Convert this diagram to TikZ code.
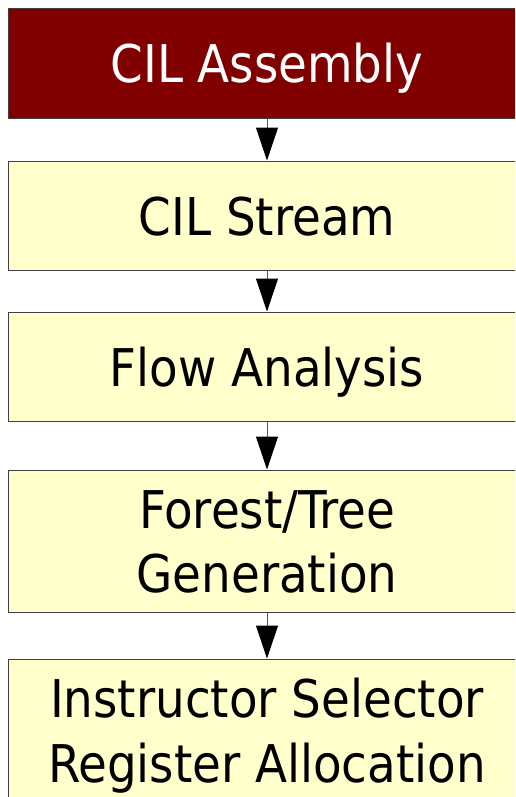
\documentclass[tikz,border=0pt]{standalone}
\usepackage{fontspec}
\newfontfamily\boxfont{DejaVu Sans Condensed}
\usetikzlibrary{arrows.meta}
\definecolor{boxred}{HTML}{800000}
\definecolor{boxyellow}{HTML}{FFFFCC}
\definecolor{edgegray}{HTML}{404040}
\definecolor{linegray}{HTML}{555555}
\begin{document}
\begin{tikzpicture}[x=1pt,y=-1pt,
  stage/.style={draw=edgegray, line width=1pt, fill=boxyellow, rectangle, inner sep=0pt, minimum width=518pt},
  first/.style={stage, fill=boxred},
  txt/.style={font=\boxfont\fontsize{52}{64}\selectfont, inner sep=0pt, anchor=base},
  conn/.style={draw=linegray, line width=1pt, -{Triangle[width=22pt,length=33pt,color=black]}}]
\useasboundingbox (0,0) rectangle (515,797);
\clip (0,0) rectangle (515,797);
\node[first, minimum height=110pt] (b1) at (267,64) {};
\node[stage, minimum height=109pt] (b2) at (267,215.5) {};
\node[stage, minimum height=109pt] (b3) at (267,366.5) {};
\node[stage, minimum height=142pt] (b4) at (267,541) {};
\node[stage, minimum height=146pt] (b5) at (267,732) {};
\node[txt, text=white] (t1) at (267,83) {CIL Assembly};
\node[txt] (t2) at (267,235) {CIL Stream};
\node[txt] (t3) at (267,386) {Flow Analysis};
\node[txt] (t4a) at (267,528) {Forest/Tree};
\node[txt] (t4b) at (267,592) {Generation};
\node[txt] (t5a) at (267,717) {Instructor Selector};
\node[txt] (t5b) at (267,782) {Register Allocation};
\draw[conn] (b1) -- (b2);
\draw[conn] (b2) -- (b3);
\draw[conn] (b3) -- (b4);
\draw[conn] (b4) -- (b5);
\end{tikzpicture}
\end{document}
